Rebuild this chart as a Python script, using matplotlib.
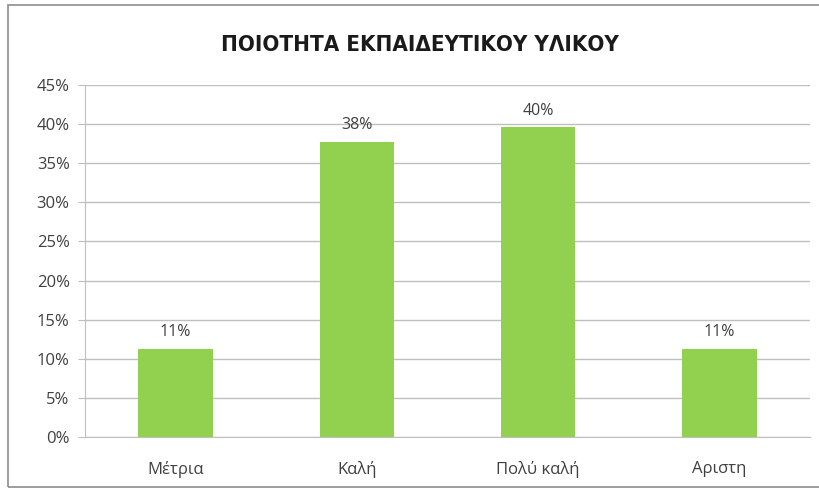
import matplotlib.pyplot as plt
from matplotlib.patches import Rectangle
from matplotlib.ticker import MultipleLocator, FuncFormatter

# Δεδομένα
katigories = ['Μέτρια', 'Καλή', 'Πολύ καλή', 'Αριστη']
pososta = [0.113, 0.377, 0.396, 0.113]
etiketes = ['11%', '38%', '40%', '11%']

plt.rcParams['font.family'] = ['Open Sans', 'DejaVu Sans']

fig = plt.figure(figsize=(8.19, 4.9), dpi=100)
ax = fig.add_axes([85 / 819, 1 - 437 / 490, 725 / 819, 352 / 490])

# Πλαίσιο γραφήματος
fig.patches.append(Rectangle((8 / 819, 0.006), 1.0, 1 - 5 / 490 - 0.006,
                             transform=fig.transFigure, fill=False,
                             edgecolor='#8c8c8c', linewidth=1.2))

x = range(len(katigories))
ax.bar(x, pososta, width=0.41, color='#92D050', zorder=3)

for xi, v, lab in zip(x, pososta, etiketes):
    ax.text(xi, v + 0.011, lab, ha='center', va='bottom',
            fontsize=11.5, color='#404040')

ax.set_xlim(-0.5, len(katigories) - 0.5)
ax.set_ylim(0, 0.45)
ax.yaxis.set_major_locator(MultipleLocator(0.05))
ax.yaxis.set_major_formatter(FuncFormatter(lambda v, p: f'{v * 100:.0f}%'))
ax.set_xticks(list(x))
ax.set_xticklabels(katigories)
ax.tick_params(axis='x', length=0, pad=17, labelsize=12, labelcolor='#404040')
ax.tick_params(axis='y', length=5, color='#bfbfbf', labelsize=12,
               labelcolor='#404040', pad=6)
ax.grid(axis='y', color='#bfbfbf', linewidth=1, zorder=0)

for s in ['top', 'right']:
    ax.spines[s].set_visible(False)
ax.spines['left'].set_color('#bfbfbf')
ax.spines['bottom'].set_color('#bfbfbf')

fig.text(420 / 819, 1 - 45 / 490, 'ΠΟΙΟΤΗΤΑ ΕΚΠΑΙΔΕΥΤΙΚΟΥ ΥΛΙΚΟΥ',
         ha='center', va='center', fontsize=16, fontweight='bold',
         fontstretch='condensed', color='#1a1a1a',
         family=['DejaVu Sans', 'Open Sans'])

fig.savefig('out.png', dpi=100)
